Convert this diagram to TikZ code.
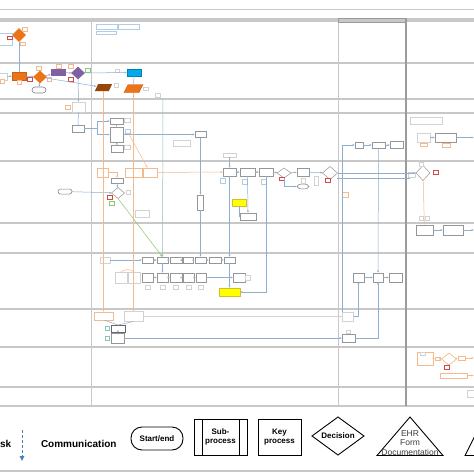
\documentclass[tikz,border=0pt]{standalone}
\usepackage{fontspec}
\setmainfont{Liberation Sans}
\usetikzlibrary{shapes.geometric,arrows.meta,calc}
\definecolor{lanec}{RGB}{200,200,200}
\definecolor{lanedk}{RGB}{155,155,155}
\definecolor{boxc}{RGB}{150,150,150}
\definecolor{lboxc}{RGB}{210,210,210}
\definecolor{lorange}{RGB}{244,185,140}
\definecolor{redc}{RGB}{215,70,70}
\definecolor{greenc}{RGB}{140,200,110}
\definecolor{tealc}{RGB}{140,195,185}
\definecolor{linec}{RGB}{140,175,210}
\definecolor{orc}{RGB}{236,115,22}
\definecolor{purc}{RGB}{128,96,160}
\definecolor{cyanc}{RGB}{0,170,235}
\definecolor{brownc}{RGB}{150,70,10}
\definecolor{yelc}{RGB}{255,255,0}
\definecolor{yelo}{RGB}{215,190,40}
\definecolor{lblue}{RGB}{175,205,230}
\definecolor{dashb}{RGB}{70,130,190}
\definecolor{txtg}{RGB}{60,60,60}
\begin{document}
\begin{tikzpicture}[x=1pt,y=-1pt,
  every node/.style={inner sep=0pt,outer sep=0pt},
  sz/.style 2 args={minimum width=#1,minimum height=#2},
  lane/.style={draw=lanec,line width=1.3pt},
  bx/.style={rectangle,draw=boxc,fill=white,line width=0.5pt},
  lbx/.style={rectangle,draw=lboxc,fill=white,line width=0.4pt},
  obx/.style={rectangle,draw=lorange,fill=white,line width=0.4pt},
  rbx/.style={rectangle,draw=redc,fill=white,line width=0.5pt},
  gbx/.style={rectangle,draw=greenc,fill=white,line width=0.4pt},
  tbx/.style={rectangle,draw=tealc,fill=white,line width=0.4pt},
  bbx/.style={rectangle,draw=lblue,fill=white,line width=0.4pt},
  dmd/.style={diamond,draw=boxc,line width=0.5pt},
  ln/.style={draw=linec,line width=0.5pt},
  lo/.style={draw=lorange,line width=0.5pt},
  gline/.style={draw=greenc,line width=0.5pt},
  tealln/.style={draw=tealc,line width=0.5pt},
  ar/.style={-{Latex[length=2.4pt,width=2pt]}},
  lgtext/.style={font=\bfseries\fontsize{8}{9.5}\selectfont,align=center},
  lgbox/.style={draw=black,line width=0.9pt}
]
\useasboundingbox (0,0) rectangle (474,474);
\fill[white] (0,0) rectangle (474,474);

% ---------- lanes ----------
\draw[draw=lanec,line width=0.8pt] (0,9) -- (474,9);
\foreach \yy in {19,21,63,99,113,161,223,253,309,347,387,406,471}
  \draw[lane] (0,\yy) -- (474,\yy);
\draw[draw=lanec,line width=0.6pt] (91,21) -- (91,406);
\draw[draw=lanec,line width=0.8pt] (338,19) -- (338,406);
\draw[draw=lanedk,line width=1.3pt] (406,19) -- (406,406);
\draw[draw=lanedk,line width=0.8pt] (338,18) rectangle (406,22);

% ---------- lane 1 ----------
\node[dmd,draw=orc,fill=orc,sz={13}{13}] (d1) at (19,35) {};
\node[bbx,sz={13}{12}] (b1) at (6,39) {};
\node[rbx,sz={5}{3}] (r1t) at (10,37.5) {};
\node[obx,sz={5}{3}] (o1a) at (22.5,43.5) {};
\node[obx,sz={5}{4}] (o1b) at (25,29) {};
\node[bbx,sz={21}{5}] (t1a) at (106.5,26.5) {};
\node[bbx,sz={21}{5}] (t1b) at (128.5,26.5) {};
\node[bbx,sz={20}{3}] (t1c) at (106,32.5) {};

% ---------- lane 2 ----------
\node[lbx,sz={8}{7}] (b2) at (3,76.5) {};
\node[rectangle,fill=orc,draw=orc!85!black,sz={14}{8}] (o2) at (19,76) {};
\node[dmd,draw=orc,fill=orc,sz={13}{12}] (d2) at (40,77) {};
\node[rectangle,draw=gray,rounded corners=3pt,line width=0.6pt,sz={14}{6}] (se2) at (39,90) {};
\node[rectangle,fill=purc,sz={15}{7}] (p2) at (58.5,72.5) {};
\node[dmd,draw=purc,fill=purc,sz={13}{12}] (pd2) at (78,73) {};
\node[rectangle,fill=cyanc,draw=cyanc!75!black,sz={14}{7}] (c2) at (134,72.5) {};
\node[rectangle,sz={14}{7}] (br2) at (103.5,87.5) {};
\fill[brownc] ($(br2.south west)+(-1.7,0)$) -- ($(br2.south east)+(-1.7,0)$) -- ($(br2.north east)+(1.7,0)$) -- ($(br2.north west)+(1.7,0)$) -- cycle;
\node[rectangle,sz={15}{8}] (or2) at (133.5,88.5) {};
\filldraw[fill=orc,draw=orc!80!black,line width=0.4pt] ($(or2.south west)+(-2,0)$) -- ($(or2.south east)+(-2,0)$) -- ($(or2.north east)+(2,0)$) -- ($(or2.north west)+(2,0)$) -- cycle;
\node[obx,sz={4}{4}] (s2a) at (2,81) {};
\node[obx,sz={4}{4}] (s2b) at (19,82) {};
\node[rbx,sz={5}{4}] (s2c) at (29.5,79) {};
\node[obx,sz={5}{4}] (s2d) at (38.5,68) {};
\node[obx,sz={4}{4}] (s2e) at (49,79) {};
\node[obx,sz={5}{4}] (s2f) at (58.5,66) {};
\node[obx,sz={5}{4}] (s2g) at (70.5,66) {};
\node[rbx,sz={5}{4}] (s2h) at (70.5,79) {};
\node[gbx,sz={5}{4}] (s2i) at (87.5,70) {};
\node[lbx,sz={4}{3}] (s2j) at (117.5,70.5) {};
\node[lbx,sz={4}{4}] (s2k) at (116.5,85) {};
\node[lbx,sz={5}{3}] (s2l) at (145.5,88.5) {};
\node[lbx,sz={5}{4}] (s2m) at (157.5,95) {};

\draw[ln] (d1) -- (o2);
\draw[ln] (b1) -- (d1);
\draw[ln,ar] (b2) -- (o2);
\draw[ln,ar] (o2) -- (d2);
\draw[ln,ar] (d2) -- (se2);
\draw[ln,ar] (d2) -- (p2);
\draw[ln,ar] (p2) -- (pd2);
\draw[ln,ar] (pd2) -- (c2);
\draw[ln,ar] (d2) -- (br2);
\draw[ln] (c2) -- (or2);

% ---------- lane 3 ----------
\node[lbx,sz={13}{10}] (l3) at (78.5,107) {};
\node[obx,sz={5}{4}] (l3t) at (67.5,107) {};
\draw[ln,ar] (pd2) -- (l3);

% ---------- lane 4 ----------
\node[bx,sz={12}{7}] (s4) at (78,128.5) {};
\node[bx,sz={13}{6}] (a4) at (116.5,121) {};
\node[bx,sz={13}{15}] (b4) at (116.5,134.5) {};
\node[bx,sz={12}{7}] (c4) at (117,148.5) {};
\node[lbx,sz={6}{4}] (a4t) at (127,120) {};
\node[bbx,sz={5}{4}] (b4t) at (127.5,131.5) {};
\node[lbx,sz={6}{4}] (c4t) at (127,147.5) {};
\node[bx,sz={11}{6}] (t4) at (200.5,134.5) {};
\node[lbx,sz={17}{6}] (u4) at (181.5,143) {};
\coordinate (j4) at (97,128.5);
\draw[ln] (l3) -- (s4);
\draw[ln] (s4) -- (j4);
\draw[ln,ar] (j4) |- (a4);
\draw[ln,ar] (j4) |- (b4);
\draw[ln,ar] (a4) -- (b4);
\draw[ln,ar] (c4) -- (b4);
\draw[ln,ar] (b4) -- (t4);

\node[bx,sz={8}{6}] (h4a) at (359,145) {};
\node[bx,sz={13}{6}] (h4b) at (378.5,145) {};
\node[bx,sz={13}{7}] (h4c) at (396.5,145) {};
\draw[ln,ar] (h4a) -- (h4b);
\draw[ln,ar] (h4b) -- (h4c);
\node[lbx,sz={13}{9}] (k4a) at (423.5,137.5) {};
\node[bx,sz={21}{9}] (k4b) at (445.5,137.5) {};
\node[lbx,sz={32}{7}] (k4t) at (426,120.5) {};
\node[obx,sz={7}{3}] (k4s) at (423.5,144.5) {};
\node[obx,sz={8}{4}] (k4u) at (446,145.5) {};
\coordinate (k4e) at (474,137.5);
\draw[ln,ar] (k4a) -- (k4b);
\draw[ln,ar] (k4b) -- (k4e);

% ---------- lane 5 ----------
\node[rectangle,draw=gray,rounded corners=2.5pt,line width=0.5pt,sz={14}{5}] (se5) at (65,191.5) {};
\node[dmd,fill=white,sz={13}{11}] (d5) at (118,193) {};
\node[bx,sz={12}{5}] (a5) at (117,180.5) {};
\node[obx,sz={11}{9}] (L5a) at (102.5,172.5) {};
\node[obx,sz={17}{9}] (L5b) at (133.5,172.5) {};
\node[obx,sz={14}{9}] (L5c) at (150,172.5) {};
\node[rbx,sz={5}{4}] (r5t) at (109.5,197) {};
\node[gbx,sz={5}{4}] (g5t) at (112,203) {};
\node[lbx,sz={4}{4}] (d5t) at (128,192) {};
\node[lbx,sz={14}{7}] (L5d) at (142,213.5) {};
\node[bx,sz={6}{15}] (tb5) at (200.5,202.5) {};
\draw[ln,ar] (se5) -- (d5);
\draw[ln,ar] (a5) -- (d5);
\draw[lo,ar] (L5a.east) -| (a5.north);
\draw[lo,ar] (b4t) -- (L5c);
\draw[ln,ar] (t4) -- (tb5);

\node[lbx,sz={13}{4}] (tg) at (229.5,155) {};
\node[bx,sz={13}{8}] (e1) at (229.5,172) {};
\node[bx,sz={15}{8}] (e2) at (247.5,172) {};
\node[bx,sz={14}{8}] (e3) at (266,172) {};
\node[dmd,fill=white,sz={14}{10}] (ed1) at (284,173) {};
\node[bx,sz={12}{8}] (e4) at (303,172) {};
\node[ellipse,draw=gray,line width=0.5pt,sz={12}{5}] (se5b) at (303,186.5) {};
\node[dmd,fill=white,sz={15}{13}] (ed2) at (330,173) {};
\node[bbx,sz={5}{5}] (e1t) at (222.5,180.5) {};
\node[bbx,sz={5}{5}] (e2t) at (244.5,181.5) {};
\node[bbx,sz={5}{5}] (e3t) at (263.5,181.5) {};
\node[rbx,sz={5}{3}] (ed1t) at (281.5,178.5) {};
\node[lbx,sz={4}{5}] (e4t) at (303,180.5) {};
\node[lbx,sz={4}{9}] (e4u) at (316,180.5) {};
\node[rbx,sz={5}{4}] (ed2t) at (327.5,180) {};
\node[obx,sz={6}{5}] (ed2u) at (345,194.5) {};
\node[rectangle,fill=yelc,draw=yelo,line width=0.4pt,sz={14}{7}] (y5) at (239,202.5) {};
\node[bx,sz={16}{7}] (f5) at (248,216.5) {};
\draw[lo,ar] (L5c) -- (e1);
\draw[ln,ar] (tg) -- (e1);
\draw[ln,ar] (e1) -- (e2);
\draw[ln,ar] (e2) -- (e3);
\draw[ln,ar] (e3) -- (ed1);
\draw[ln,ar] (ed1) -- (e4);
\draw[ln,ar] (ed1) |- (se5b);
\draw[ln,ar] (e4) -- (ed2);
\draw[ln,ar] (e2) -- (f5);
\draw[ln] (y5.south) |- (f5.west);

\node[dmd,fill=white,sz={14}{15}] (ed3) at (423,173) {};
\node[lbx,sz={7}{5}] (ed3a) at (411.5,174.5) {};
\node[rbx,sz={5}{4}] (ed3b) at (435.5,172) {};
\node[lbx,sz={4}{4}] (ed3c) at (421,164.5) {};
\node[lbx,sz={4}{4}] (g6t1) at (421.5,218) {};
\node[lbx,sz={4}{4}] (g6t2) at (427.5,218) {};
\coordinate (q178a) at (337,178.5);
\coordinate (q178b) at (410,178.5);
\draw[ln,ar] (ed2) -- (ed3);
\draw[ln] (q178a) -- (q178b);

% ---------- lane 6 ----------
\node[bx,sz={17}{10}] (g6a) at (424.5,230) {};
\node[bx,sz={20}{10}] (g6b) at (453,230) {};
\coordinate (g6e) at (474,230);
\draw[lo,ar] (ed3) -- (g6a);
\draw[ln,ar] (g6a) -- (g6b);
\draw[ln,ar] (g6b) -- (g6e);

% ---------- lane 7 ----------
\node[bx,sz={11}{6}] (r1) at (147.5,260) {};
\node[bx,sz={11}{6}] (r2) at (162.5,260) {};
\node[bx,sz={12}{6}] (r3) at (176,260) {};
\node[bx,sz={10}{6}] (r4) at (188,260) {};
\node[bx,sz={11}{6}] (r5) at (200.5,260) {};
\node[bx,sz={12}{6}] (r6) at (215,260) {};
\node[bx,sz={11}{6}] (r7) at (229.5,260) {};
\node[bx,sz={11}{9}] (q1) at (147.5,277.5) {};
\node[bx,sz={11}{9}] (q2) at (162.5,277.5) {};
\node[bx,sz={12}{9}] (q3) at (176,277.5) {};
\node[bx,sz={11}{9}] (q4) at (188.5,277.5) {};
\node[bx,sz={10}{9}] (q5) at (201,277.5) {};
\node[bx,sz={12}{9}] (q6) at (239,277.5) {};
\node[lbx,sz={5}{4}] (q1t) at (147.5,287.5) {};
\node[lbx,sz={5}{4}] (q2t) at (162.5,287.5) {};
\node[lbx,sz={5}{4}] (q3t) at (176,287.5) {};
\node[lbx,sz={5}{4}] (q4t) at (188.5,287.5) {};
\node[lbx,sz={5}{4}] (q5t) at (201,287.5) {};
\node[lbx,sz={5}{5}] (q6t) at (248,277.5) {};
\node[lbx,sz={10}{6}] (L7a) at (105,260) {};
\node[lbx,sz={12}{11}] (L7b) at (121,277.5) {};
\node[lbx,sz={12}{11}] (L7c) at (134,277.5) {};
\node[rectangle,fill=yelc,draw=yelo,line width=0.4pt,sz={21}{8}] (yel7) at (229.5,292) {};
\coordinate (g0) at (163,99);
\draw[tealln,ar] (g0) -- (r2.north);
\draw[gline,ar] (d5.south) -- (r2.north);
\draw[lo] (L7b.north) to[bend left=40] (L7c.north);
\draw[ln,ar] (L7a) -- (r1);
\draw[ln,ar] (r1) -- (r2);
\draw[ln,ar] (r2) -- (r3);
\draw[ln,ar] (r3) -- (r4);
\draw[ln,ar] (r4) -- (r5);
\draw[ln,ar] (r5) -- (r6);
\draw[ln,ar] (r6) -- (r7);
\draw[ln,ar] (r2) -- (q2);
\draw[ln,ar] (q1) -- (q2);
\draw[ln,ar] (q2) -- (q3);
\draw[ln,ar] (q3) -- (q4);
\draw[ln,ar] (q4) -- (q5);
\draw[ln,ar] (q5) -- (q6);
\draw[ln,ar] (tb5) -- (r5);
\draw[ln,ar] (e1) -- (r7);
\draw[ln,ar] (r7) -- (yel7);
\draw[ln,ar] (e3.south) |- (yel7.east);

\node[bx,sz={11}{9}] (m7a) at (358.5,277.5) {};
\node[bx,sz={10}{9}] (m7b) at (378,277.5) {};
\node[bx,sz={13}{9}] (m7c) at (395.5,277.5) {};
\draw[ln,ar] (m7a) -- (m7b);
\draw[ln,ar] (m7b) -- (m7c);
\draw[ln,ar] (h4b) -- (m7b);

% ---------- lane 8 ----------
\node[obx,sz={19}{8}] (L8a) at (103.5,316) {};
\node[lbx,sz={19}{10}] (L8b) at (133.5,316.5) {};
\node[rectangle,draw=gray!80!black,fill=white,line width=0.6pt,sz={14}{7}] (n1) at (118,328.5) {};
\node[bx,sz={13}{10}] (n2) at (117.5,338) {};
\node[tbx,sz={4}{4}] (n1t) at (107,328.5) {};
\node[tbx,sz={4}{4}] (n2t) at (107,338) {};
\node[lbx,sz={11}{9}] (n8a) at (348,316.5) {};
\node[bx,sz={13}{8}] (n8b) at (348.5,338) {};
\node[lbx,sz={4}{3}] (n8t) at (348,332) {};
\draw[lo,ar] (br2) -- (L8a);
\draw[lo,ar] (or2) -- (L8b);
\draw[ln] (L8a.south) -- (n1.north);
\draw[ln] (L8b.south) -- (n1.north);
\draw[ln,ar] (n1) -- (n2);
\draw[ln,ar] (n2) -- (n8b);
\draw[lboxc,line width=0.5pt,-{Latex[length=2.4pt,width=2pt]}] (L8b) -- (n8a);
\draw[ln,ar] (n8a.east) -| (m7a.south);
\draw[ln,ar] (n8b.east) -| (m7b.south);
\draw[ln,ar] (n8a.north west) |- (h4a.west);

% ---------- lane 9 ----------
\node[obx,sz={16}{13}] (z1) at (425,358.5) {};
\node[lbx,sz={5}{3}] (z1t) at (422.5,353.5) {};
\node[obx,sz={5}{3}] (z2) at (437.5,358.5) {};
\node[diamond,draw=lorange,line width=0.6pt,sz={15}{12}] (zd) at (449,359) {};
\node[obx,sz={7}{4}] (z3) at (461.5,358) {};
\node[rbx,sz={5}{4}] (z4) at (446.5,367) {};
\node[obx,sz={27}{5}] (z5) at (453.5,375.5) {};
\node[lbx,sz={8}{7}] (zb) at (471,393.5) {};
\coordinate (z3e) at (474,358);
\coordinate (z5e) at (474,375.5);
\draw[lo,ar] (z1) -- (z2);
\draw[lo,ar] (z2) -- (zd);
\draw[lo,ar] (zd) -- (z3);
\draw[lo,ar] (z3) -- (z3e);
\draw[lo] (zd) -- (z4);
\draw[lo,ar] (z5) -- (z5e);

% ---------- legend ----------
\node[anchor=base west,font=\bfseries\fontsize{10}{12}\selectfont] (lgtask) at (0,447.5) {sk};
\coordinate (da1) at (22,430);
\coordinate (da2) at (22,461);
\draw[draw=dashb,line width=0.9pt,dash pattern=on 3pt off 2pt,-{Triangle[length=5pt,width=4.5pt]}] (da1) -- (da2);
\node[anchor=base west,font=\bfseries\fontsize{10}{12}\selectfont] (lgcom) at (41,447.5) {Communication};
\node[lgbox,rectangle,rounded corners=11pt,sz={52}{23},lgtext] (lgse) at (157,438.5) {Start/end};
\node[lgbox,rectangle,sz={53}{36},lgtext] (lgsp) at (220.5,437) {Sub-\\process};
\draw[draw=black,line width=0.9pt] ($(lgsp.north west)+(8,0)$) -- ($(lgsp.south west)+(8,0)$);
\draw[draw=black,line width=0.9pt] ($(lgsp.north east)+(-8,0)$) -- ($(lgsp.south east)+(-8,0)$);
\node[lgbox,rectangle,sz={43}{36},lgtext] (lgkp) at (279.5,437) {Key\\process};
\node[lgbox,diamond,aspect=1.4,sz={52}{38},lgtext] (lgdc) at (338,436) {Decision};
\draw[draw=black,line width=0.9pt] (377,455.5) -- (410,417) -- (443,455.5) -- cycle;
\node[font=\fontsize{8.5}{9.5}\selectfont,text=txtg,align=center] (lgehr) at (410,443) {EHR\\Form\\Documentation};
\draw[draw=black,line width=0.9pt] (480,455.5) -- (465,455.5) -- (480,425.5);
\end{tikzpicture}
\end{document}
